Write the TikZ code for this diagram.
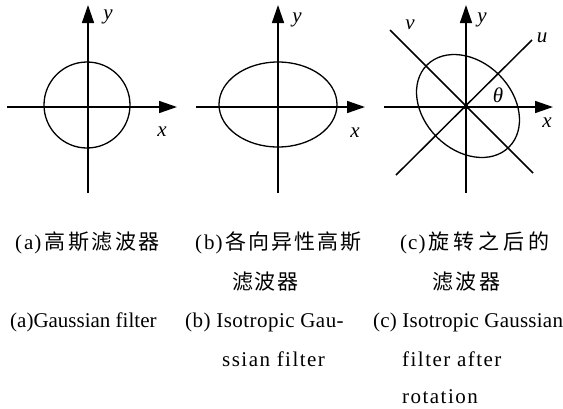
\documentclass[tikz,border=0pt]{standalone}
\usepackage{fontspec}
\setmainfont{Liberation Serif}
\newfontfamily\cjk{Noto Sans CJK SC}
\usetikzlibrary{arrows.meta}
\newdimen\zkern
\zkern=2pt
\newcommand\zk{\kern\zkern}
\begin{document}
\begin{tikzpicture}[x=1pt,y=-1pt,
  axis/.style={line width=1.5pt,-{Triangle[length=18pt,width=12pt]}},
  plain/.style={line width=1.5pt},
  curve/.style={line width=1.3pt},
  lab/.style={font=\fontsize{21}{21}\selectfont\itshape, inner sep=0pt},
  zh/.style={font=\fontsize{21}{21}\selectfont, inner sep=0pt, anchor=west},
  en/.style={font=\fontsize{21}{21}\selectfont, inner sep=0pt, anchor=base west}]
\useasboundingbox (0,0) rectangle (563,408);

% ---- panel (a)
\coordinate (oa) at (88,107);
\coordinate (ab) at (88,193);
\coordinate (at) at (88,5);
\coordinate (al) at (7,107);
\coordinate (ar) at (177,107);
\coordinate (ca) at (87,105);
\draw[axis] (ab) -- (at);
\draw[axis] (al) -- (ar);
\draw[curve] (ca) circle[radius=43];
\node[lab] (ya) at (108,17) {y};
\node[lab] (xa) at (162,132) {x};

% ---- panel (b)
\coordinate (ob) at (278,107);
\coordinate (bb) at (278,193);
\coordinate (bt) at (278,5);
\coordinate (bl) at (196,107);
\coordinate (br) at (365,107);
\coordinate (cb) at (278,104.5);
\draw[axis] (bb) -- (bt);
\draw[axis] (bl) -- (br);
\draw[curve] (cb) ellipse[x radius=59, y radius=42.5];
\node[lab] (yb) at (297,20) {y};
\node[lab] (xb) at (355,133) {x};

% ---- panel (c)
\coordinate (oc) at (466,107);
\coordinate (cbot) at (466,193);
\coordinate (ctop) at (466,5);
\coordinate (cl) at (384,107);
\coordinate (cr) at (553,107);
\coordinate (u1) at (396,175);
\coordinate (u2) at (532,40);
\coordinate (v1) at (390,30);
\coordinate (v2) at (533,173);
\coordinate (cc) at (468,106);
\draw[axis] (cbot) -- (ctop);
\draw[axis] (cl) -- (cr);
\draw[plain] (u1) -- (u2);
\draw[plain] (v1) -- (v2);
\draw[curve, rotate around={-45:(cc)}] (cc) ellipse[x radius=58, y radius=44];
\fill (oc) circle[radius=2.4];
\node[lab] (vc) at (410,25) {v};
\node[lab] (yc) at (482,20) {y};
\node[lab] (uc) at (542,38) {u};
\node[lab] (tc) at (498,95) {θ};
\node[lab] (xc) at (547,123) {x};

% ---- Chinese captions
\node[zh] (za1) at (15,243) {(\kern2pt a\kern1pt)\kern3pt{\cjk\zkern=2.5pt\relax 高\zk{}斯\zk{}滤\zk{}波\zk{}器}};
\node[zh] (zb1) at (195,243) {(\kern2pt b\kern1pt)\kern3pt{\cjk\zkern=2pt\relax 各\zk{}向\zk{}异\zk{}性\zk{}高\zk{}斯}};
\node[zh] (zc1) at (400,243) {(\kern1pt c\kern1pt)\kern3pt{\cjk\zkern=4pt\relax 旋\zk{}转\zk{}之\zk{}后\zk{}的}};
\node[zh] (zb2) at (232,282) {\cjk\zkern=1.5pt\relax 滤\zk{}波\zk{}器};
\node[zh] (zc2) at (432,282) {\cjk\zkern=2.5pt\relax 滤\zk{}波\zk{}器};

% ---- English captions
\node[en] (ea1) at (10,327) {(a)Gaussian filter};
\node[en] (eb1) at (185,327) {\addfontfeature{LetterSpace=2.2}(b) Isotropic Gau-};
\node[en] (ec1) at (373,327) {\addfontfeature{LetterSpace=1.1}(c) Isotropic Gaussian};
\node[en] (eb2) at (222,366) {\addfontfeature{LetterSpace=7}ssian filter};
\node[en] (ec2) at (402,366) {\addfontfeature{LetterSpace=7}filter after};
\node[en] (ec3) at (402,403) {\addfontfeature{LetterSpace=7}rotation};
\end{tikzpicture}
\end{document}
